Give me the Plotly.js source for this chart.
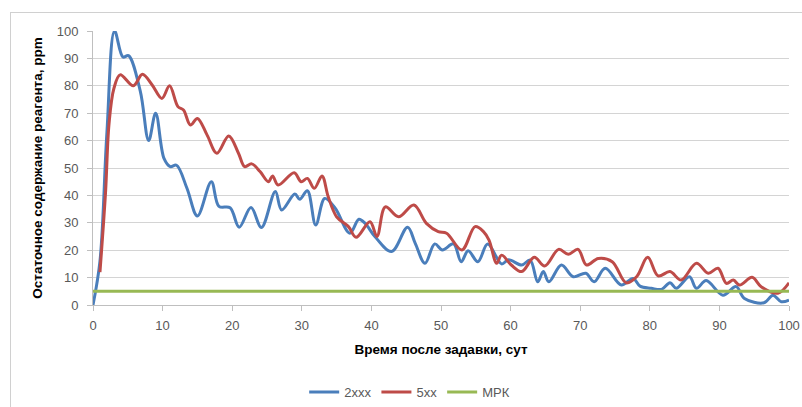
<!DOCTYPE html>
<html>
<head>
<meta charset="utf-8">
<script src="https://cdn.plot.ly/plotly-3.0.1.min.js"></script>
<style>
  html, body { margin: 0; padding: 0; background: #ffffff; }
  #wrap { position: relative; width: 802px; height: 407px; overflow: hidden; }
  #frame { position: absolute; left: 10px; top: 12px; width: 820px; height: 420px; border: 1px solid #d0d0d0; box-sizing: border-box; pointer-events: none; }
  #chart { position: absolute; left: 0; top: 0; width: 802px; height: 407px; }
</style>
</head>
<body>
<div id="wrap">
  <div id="chart"></div>
  <div id="frame"></div>
</div>
<script>
// Series "2xxx"
const daysA = [0, 1, 2, 3.1, 4.3, 5.1, 6.8, 8.0, 9.0, 10.2, 11.1, 12, 13.5, 15, 17, 18.1, 19.7, 21, 22.7, 24.2,
  26.2, 27.1, 29, 29.7, 30.8, 32, 33.3, 34.8, 36.9, 38.2, 39.1, 40.5, 42.9, 45.2, 46.3, 47.7, 49.1, 50.2, 51.8, 52.9,
  53.9, 55.3, 56.7, 58.7, 59.7, 61.6, 62.8, 63.9, 64.7, 65.5, 67.3, 69, 70.8, 72, 73.6, 75.9, 77.6, 78.6, 80.2, 81.7,
  82.9, 83.8, 85.7, 86.7, 88.1, 90.5, 92.4, 93.6, 96.4, 97.7, 98.9, 100];
const valsA = [0, 16, 63, 100, 90.5, 91, 78, 60, 70, 53.5, 50.5, 51, 42.6, 32.5, 45, 36, 35.5, 28.4, 35.6, 28.3,
  41.4, 34.7, 40.5, 38.6, 41.7, 29.2, 38.9, 35.3, 26.2, 31.3, 29.8, 25, 19.5, 28.4, 22.5, 15.2, 22.3, 20.1, 22.3, 15.8,
  19.8, 15.8, 22.3, 15, 16.5, 14.6, 16.4, 8.5, 12.2, 8.5, 14.6, 10.3, 11.6, 8.5, 13.4, 7.3, 9.7, 6.9, 6.1, 5.7,
  8.1, 6.1, 10.3, 6.1, 8.9, 3.6, 6.7, 2.4, 0.8, 3.6, 1.2, 1.8];

// Series "5xx"
const daysB = [1, 1.8, 2.3, 3, 3.9, 5.8, 7.1, 8.5, 9.9, 11, 12.2, 13, 14, 15, 16.4, 17.8, 19.5, 20.9, 21.8, 22.8,
  24, 25.2, 25.8, 26.6, 28.9, 29.9, 30.8, 31.8, 32.9, 33.8, 35, 36.7, 37.8, 39.8, 40.8, 42, 43.9, 46.1, 47.9, 49.6,
  50.8, 53, 54.9, 56.1, 56.9, 58, 58.7, 60.1, 61.6, 63.4, 64.9, 66.9, 68.3, 69.7, 70.9, 72.6, 74.6, 76.6, 78.1, 79.7,
  81.2, 82.9, 84.5, 86.7, 88.4, 89.8, 91, 92, 92.9, 94.7, 96, 98.4, 100];
const valsB = [12, 41, 66, 79, 84, 80, 84.2, 80.3, 75.4, 80, 72.4, 71.2, 65.7, 68.1, 62, 55.4, 61.7, 55.4, 50.5, 51.5,
  48.7, 45, 47.1, 43.8, 48.3, 45, 46.2, 42.6, 47.1, 39.5, 32.2, 28.6, 24.7, 30.4, 25, 35.8, 32.2, 36.5, 29.8, 26.8,
  26.2, 20.1, 28.6, 26.8, 23.7, 15.2, 18.2, 14.6, 12.2, 17.4, 14.2, 20.3, 18.5, 20.3, 14.6, 17, 15.8, 8.1, 10.3, 17.4,
  10.6, 12.2, 9.1, 15.2, 11.6, 13.4, 7.9, 9.1, 7.3, 10.1, 6.7, 4.3, 8.1];

// Series "МРК"
const daysC = [0, 100];
const valsC = [5, 5];

const seriesNames = ["2xxx", "5xx", "МРК"];
const xTicks = [0, 10, 20, 30, 40, 50, 60, 70, 80, 90, 100];
const yTicks = [0, 10, 20, 30, 40, 50, 60, 70, 80, 90, 100];

const colors = ["#4a7ebb", "#be4b48", "#98b954"];

const traces = [
  { x: daysA, y: valsA, name: seriesNames[0], type: "scatter", mode: "lines",
    line: { color: colors[0], width: 3, shape: "spline", smoothing: 1 } },
  { x: daysB, y: valsB, name: seriesNames[1], type: "scatter", mode: "lines",
    line: { color: colors[1], width: 3, shape: "spline", smoothing: 1 } },
  { x: daysC, y: valsC, name: seriesNames[2], type: "scatter", mode: "lines",
    line: { color: colors[2], width: 3 } }
];

const layout = {
  width: 802, height: 407,
  margin: { l: 93, r: 13, t: 31, b: 102 },
  paper_bgcolor: "rgba(0,0,0,0)",
  plot_bgcolor: "#ffffff",
  font: { family: "Liberation Sans, Arial, sans-serif", size: 13, color: "#595959" },
  showlegend: true,
  legend: { orientation: "h", x: 0.455, xanchor: "center", yref: "container", y: 0.037, yanchor: "middle",
    font: { size: 13, color: "#595959" }, traceorder: "normal" },
  xaxis: {
    automargin: false,
    range: [0, 100], tickmode: "array", tickvals: xTicks, ticktext: xTicks.map(String),
    showgrid: false, zeroline: false, showline: true, linecolor: "#bfbfbf", linewidth: 1,
    ticks: "outside", ticklen: 5, tickcolor: "#bfbfbf", ticklabelstandoff: 3,
    tickfont: { size: 13, color: "#595959" },
    title: { text: "Время после задавки, сут", standoff: 12,
      font: { size: 13.5, color: "#000000", family: "Liberation Sans, Arial, sans-serif", weight: "bold" } }
  },
  yaxis: {
    automargin: false,
    range: [0, 100], tickmode: "array", tickvals: yTicks, ticktext: yTicks.map(String),
    showgrid: true, gridcolor: "#d4d4d4", gridwidth: 1, zeroline: false,
    showline: true, linecolor: "#bfbfbf", linewidth: 1,
    ticks: "outside", ticklen: 5, tickcolor: "#bfbfbf", ticklabelstandoff: 6,
    tickfont: { size: 13, color: "#595959" },
    title: { text: "Остаточное содержание реагента, ppm", standoff: 10,
      font: { size: 13.5, color: "#000000", family: "Liberation Sans, Arial, sans-serif", weight: "bold" } }
  }
};

Plotly.newPlot("chart", traces, layout, { staticPlot: true, displayModeBar: false });
</script>
</body>
</html>
